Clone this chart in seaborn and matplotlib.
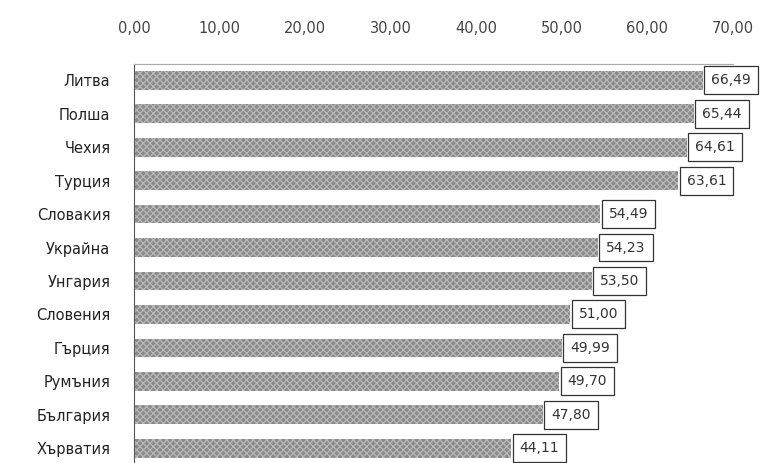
import matplotlib
matplotlib.use("Agg")
import matplotlib.pyplot as plt
import seaborn as sns
import pandas as pd

countries = ["Литва", "Полша", "Чехия", "Турция", "Словакия", "Украйна",
             "Унгария", "Словения", "Гърция", "Румъния", "България", "Хърватия"]
values = [66.49, 65.44, 64.61, 63.61, 54.49, 54.23, 53.50, 51.00, 49.99, 49.70, 47.80, 44.11]
ticks = [0, 10, 20, 30, 40, 50, 60, 70]

def fmt(v):
    return f"{v:.2f}".replace(".", ",")

sns.set_theme(style="white")
plt.rcParams["font.family"] = ["DejaVu Sans"]
plt.rcParams["hatch.linewidth"] = 0.9

df = pd.DataFrame({"country": countries, "value": values})

fig = plt.figure(figsize=(7.73, 4.63), dpi=100)
W, H = 773, 463
top, bottom = 63.5, 465
left, right = 134, 733
ax = fig.add_axes([left / W, 1 - bottom / H, (right - left) / W, (bottom - top) / H])

sns.barplot(data=df, y="country", x="value", orient="h", ax=ax,
            color="#8a8a8a", width=0.56, saturation=1)
for p in ax.patches:
    p.set_hatch("xxxxx")
    p.set_edgecolor("#b8b8b8")
    p.set_linewidth(0)

ax.set_xlim(0, 70)
ax.set_ylim(11.5, -0.5)
ax.xaxis.tick_top()
ax.set_xticks(ticks)
ax.set_xticklabels([fmt(t) for t in ticks], fontsize=10.5, color="#444444")
ax.tick_params(axis="x", pad=20, length=0)
ax.tick_params(axis="y", length=0, pad=17, labelsize=10.5, labelcolor="#222222")
ax.set_xlabel("")
ax.set_ylabel("")

for s in ["right", "bottom"]:
    ax.spines[s].set_visible(False)
ax.spines["top"].set_color("#aaaaaa")
ax.spines["top"].set_linewidth(0.8)
ax.spines["left"].set_color("#555555")
ax.spines["left"].set_linewidth(0.8)

for i, v in enumerate(values):
    ax.annotate(fmt(v), xy=(v, i), xytext=(6, 0), textcoords="offset points",
                ha="left", va="center", fontsize=10, color="#333333",
                bbox=dict(boxstyle="square,pad=0.5", fc="white", ec="#333333", lw=0.9),
                annotation_clip=False)

fig.savefig("out.png", dpi=100)
